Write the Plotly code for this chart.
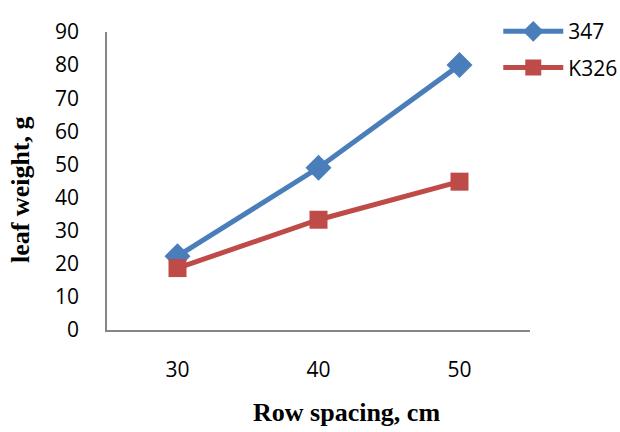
import plotly.graph_objects as go

categories = ["30", "40", "50"]
series_347 = [22.3, 49, 80]
series_k326 = [18.7, 33.3, 44.8]
y_ticks = [0, 10, 20, 30, 40, 50, 60, 70, 80, 90]
x_title = "Row spacing, cm"
y_title = "leaf weight, g"

fig = go.Figure()
fig.add_trace(go.Scatter(
    x=categories, y=series_347, name="347", mode="lines+markers",
    line=dict(color="#4A7EBB", width=5),
    marker=dict(symbol="diamond", size=20, color="#4A7EBB"),
    legendgroup="a",
))
fig.add_trace(go.Scatter(
    x=categories, y=series_k326, name="K326", mode="lines+markers",
    line=dict(color="#BE4B48", width=5),
    marker=dict(symbol="square", size=18, color="#BE4B48"),
    legendgroup="b",
))

title_font = dict(family="Liberation Serif, Times New Roman, serif", size=26, color="black")

fig.update_layout(
    width=620, height=432,
    margin=dict(l=107, r=90, t=32, b=102, autoexpand=False),
    paper_bgcolor="white", plot_bgcolor="white",
    font=dict(family="Open Sans, Liberation Sans, sans-serif", size=21, color="black"),
    legend=dict(x=0.925, y=1.07, xanchor="left", yanchor="top",
                font=dict(size=21), tracegroupgap=6, itemwidth=60,
                bgcolor="rgba(0,0,0,0)"),
    xaxis=dict(
        type="category", range=[-0.5, 2.5],
        showline=True, linecolor="#868686", linewidth=1.5,
        showgrid=False, zeroline=False, ticks="",
        ticklabelstandoff=20,
    ),
    yaxis=dict(
        range=[0, 90], tickvals=y_ticks,
        showline=True, linecolor="#868686", linewidth=1.5,
        showgrid=False, zeroline=False, ticks="",
        ticklabelstandoff=22,
    ),
    annotations=[
        dict(text="<b>" + x_title + "</b>", xref="paper", yref="paper",
             x=0.567, y=-0.277, xanchor="center", yanchor="middle",
             showarrow=False, font=title_font),
        dict(text="<b>" + y_title + "</b>", xref="paper", yref="paper",
             x=-0.203, y=0.47, xanchor="center", yanchor="middle",
             textangle=-90, showarrow=False, font=title_font),
    ],
)

fig.write_html("out.html")
